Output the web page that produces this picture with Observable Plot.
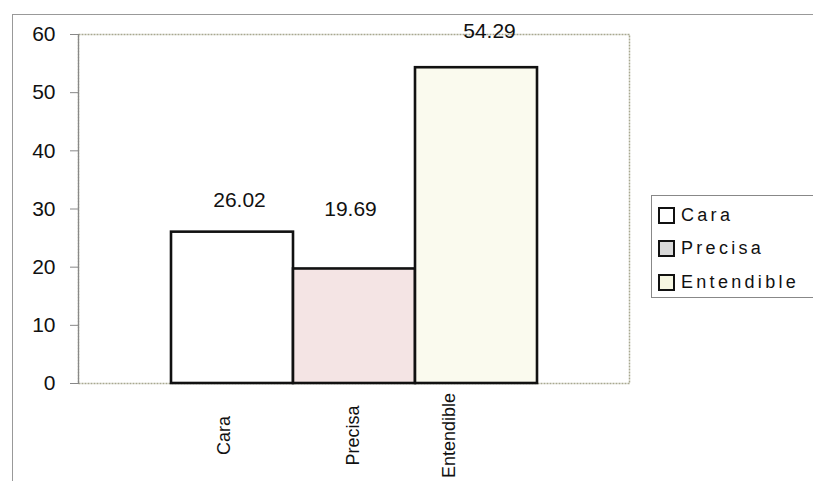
<!DOCTYPE html>
<html>
<head>
<meta charset="utf-8">
<script src="https://cdn.jsdelivr.net/npm/d3@7"></script>
<script src="https://cdn.jsdelivr.net/npm/@observablehq/plot@0.6"></script>
<style>
  html, body { margin: 0; padding: 0; background: #fff; }
  body { width: 813px; height: 481px; position: relative; overflow: hidden; font-family: "Liberation Sans", Arial, sans-serif; }
  #frame { position: absolute; left: 12px; top: 14px; width: 820px; height: 500px; border-left: 1px solid #999; border-top: 1px solid #999; }
  #chart { position: absolute; left: 0; top: 0; }
  #legend { position: absolute; left: 651px; top: 195px; width: 170px; height: 103px; border: 1px solid #888; box-sizing: border-box; }
  .item { position: absolute; left: 6px; display: flex; align-items: center; font-size: 18px; letter-spacing: 3.3px; color: #111; }
  .sw { width: 13px; height: 13px; border: 2px solid #111; margin-right: 6px; }
</style>
</head>
<body>
<div id="frame"></div>
<div id="chart"></div>
<div id="legend"></div>
<script>
const categories = ["Cara", "Precisa", "Entendible"];
const values = [26.02, 19.69, 54.29];
const valueLabels = ["26.02", "19.69", "54.29"];
const yTicks = [0, 10, 20, 30, 40, 50, 60];
const fills = ["#ffffff", "#f4e4e4", "#fafaee"];
const legendFills = ["#ffffff", "#d9d9d9", "#f6f6e2"];

const data = categories.map((c, i) => ({cat: c, value: values[i], label: valueLabels[i]}));

// per-label style offsets (pixels)
const valueLabelDy = [-32, -60, -36];
const valueLabelDx = [7, -4, 13];
const catLabelDx = [-3, 4, -22];

const chart = Plot.plot({
  width: 640,
  height: 481,
  marginLeft: 78,
  marginTop: 34,
  marginRight: 11,
  marginBottom: 98,
  style: {fontFamily: "'Liberation Sans', Arial, sans-serif", background: "transparent"},
  x: {type: "band", domain: categories, paddingInner: 0, paddingOuter: 0.74, axis: null},
  y: {domain: [0, 60], axis: null},
  color: {domain: categories, range: fills},
  marks: [
    Plot.frame({stroke: "#a8a890", strokeWidth: 1.5, strokeDasharray: "2,1"}),
    Plot.barY(data, {x: "cat", y: "value", fill: "cat", stroke: "#111", strokeWidth: 2.6}),
    Plot.frame({anchor: "left", stroke: "#888", strokeWidth: 1.2}),
    Plot.axisY({ticks: yTicks, tickSize: 8, tickPadding: 15, fontSize: 21, label: null, stroke: "#888", fill: "#111", tickFormat: d => String(d), style: {letterSpacing: "1.5px"}}),
    ...data.map((d, i) => Plot.text([d], {
      x: "cat", y: "value", text: "label",
      dx: valueLabelDx[i], dy: valueLabelDy[i],
      fontSize: 21, fill: "#111", style: {letterSpacing: "1.5px"}
    })),
    ...categories.map((c, i) => Plot.text([c], {
      x: d => d, text: d => d, frameAnchor: "bottom",
      rotate: -90, textAnchor: "middle", dy: 52, dx: catLabelDx[i],
      fontSize: 18, fill: "#111"
    }))
  ]
});
document.getElementById("chart").appendChild(chart);

const legend = document.getElementById("legend");
const rowTops = [9, 42, 76];
categories.forEach((c, i) => {
  const el = document.createElement("div");
  el.className = "item";
  el.style.top = rowTops[i] + "px";
  const sw = document.createElement("div");
  sw.className = "sw";
  sw.style.background = legendFills[i];
  const tx = document.createElement("span");
  tx.textContent = c;
  el.appendChild(sw);
  el.appendChild(tx);
  legend.appendChild(el);
});
</script>
</body>
</html>
